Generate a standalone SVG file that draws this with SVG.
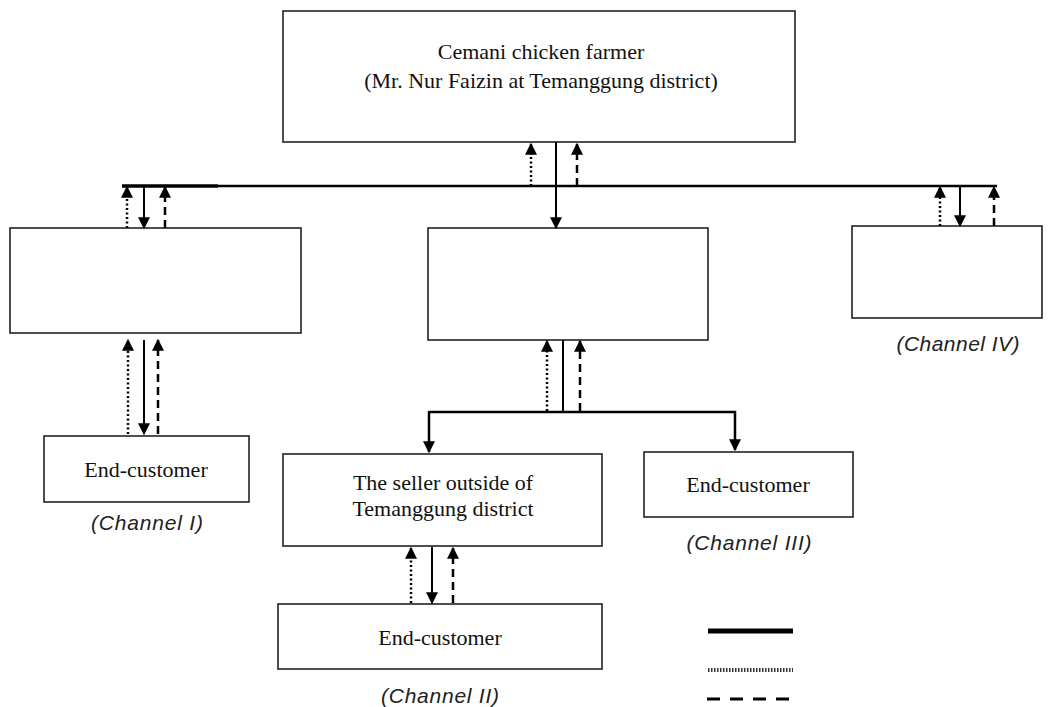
<svg xmlns="http://www.w3.org/2000/svg" width="1055" height="707" viewBox="0 0 1055 707">
<defs>
<style>
.box{fill:#fff;stroke:#222;stroke-width:1.6}
.t{font-family:"Liberation Serif","Times New Roman",serif;font-size:22px;fill:#111;text-anchor:middle}
.ch{font-family:"Liberation Sans",Arial,sans-serif;font-style:italic;font-size:21px;fill:#222;text-anchor:middle}
.s{stroke:#000;stroke-width:2;fill:none}
.d{stroke:#000;stroke-width:2.5;fill:none;stroke-dasharray:2 2.5}
.da{stroke:#000;stroke-width:2.5;fill:none;stroke-dasharray:8 5}
</style>
<marker id="ah" viewBox="0 0 10 10" refX="9" refY="5" markerWidth="12" markerHeight="12" markerUnits="userSpaceOnUse" orient="auto">
<path d="M0,0 L10,5 L0,10 Z" fill="#000"/>
</marker>
</defs>
<g id="farmer"><rect class="box" x="283" y="11" width="512" height="131"/>
<text class="t" x="541" y="59">Cemani chicken farmer</text>
<text class="t" x="541" y="88">(Mr. Nur Faizin at Temanggung district)</text></g>
<g id="box-left"><rect class="box" x="10" y="228" width="291" height="105"/></g>
<g id="box-middle"><rect class="box" x="428" y="228" width="280" height="112"/></g>
<g id="box-right"><rect class="box" x="852" y="226" width="190" height="92"/>
<text class="ch" x="958" y="351" textLength="123">(Channel IV)</text></g>
<g id="end-customer-1"><rect class="box" x="44" y="436" width="205" height="66"/>
<text class="t" x="146" y="477">End-customer</text>
<text class="ch" x="147" y="530" textLength="112">(Channel I)</text></g>
<g id="seller"><rect class="box" x="283" y="454" width="319" height="92"/>
<text class="t" x="443" y="490">The seller outside of</text>
<text class="t" x="443" y="516">Temanggung district</text></g>
<g id="end-customer-3"><rect class="box" x="644" y="452" width="209" height="65"/>
<text class="t" x="748" y="492">End-customer</text>
<text class="ch" x="749" y="550" textLength="125">(Channel III)</text></g>
<g id="end-customer-2"><rect class="box" x="278" y="604" width="324" height="65"/>
<text class="t" x="440" y="645">End-customer</text>
<text class="ch" x="440" y="703" textLength="118">(Channel II)</text></g>
<g id="connectors">
<line x1="122" y1="186" x2="218" y2="186" stroke="#000" stroke-width="3.5"/>
<line x1="218" y1="186" x2="997" y2="186" stroke="#000" stroke-width="2.5"/>
<line class="d" x1="531" y1="186" x2="531" y2="144" marker-end="url(#ah)"/>
<line class="s" x1="556" y1="142" x2="556" y2="228" marker-end="url(#ah)"/>
<line class="da" x1="577" y1="186" x2="577" y2="144" marker-end="url(#ah)"/>
<line class="d" x1="127" y1="228" x2="127" y2="187" marker-end="url(#ah)"/>
<line class="s" x1="144" y1="187" x2="144" y2="228" marker-end="url(#ah)"/>
<line class="da" x1="165" y1="228" x2="165" y2="187" marker-end="url(#ah)"/>
<line class="d" x1="940" y1="226" x2="940" y2="187" marker-end="url(#ah)"/>
<line class="s" x1="960" y1="187" x2="960" y2="226" marker-end="url(#ah)"/>
<line class="da" x1="994" y1="226" x2="994" y2="187" marker-end="url(#ah)"/>
<line class="d" x1="128" y1="434" x2="128" y2="340" marker-end="url(#ah)"/>
<line class="s" x1="144" y1="340" x2="144" y2="434" marker-end="url(#ah)"/>
<line class="da" x1="158" y1="434" x2="158" y2="340" marker-end="url(#ah)"/>
<line class="d" x1="547" y1="411" x2="547" y2="341" marker-end="url(#ah)"/>
<line class="s" x1="563" y1="340" x2="563" y2="412"/>
<line class="da" x1="580" y1="411" x2="580" y2="341" marker-end="url(#ah)"/>
<polyline points="429,412 735,412 735,450" stroke="#000" stroke-width="2.5" fill="none" marker-end="url(#ah)"/>
<line x1="429" y1="411" x2="429" y2="452" stroke="#000" stroke-width="2.5" marker-end="url(#ah)"/>
<line class="d" x1="411" y1="603" x2="411" y2="548" marker-end="url(#ah)"/>
<line class="s" x1="432" y1="547" x2="432" y2="603" marker-end="url(#ah)"/>
<line class="da" x1="453" y1="603" x2="453" y2="548" marker-end="url(#ah)"/>
</g>
<g id="legend">
<line x1="708" y1="631" x2="793" y2="631" stroke="#000" stroke-width="5"/>
<line x1="708" y1="670" x2="793" y2="670" stroke="#333" stroke-width="4" stroke-dasharray="1.5 1.5"/>
<line x1="707" y1="699" x2="793" y2="699" stroke="#000" stroke-width="3" stroke-dasharray="13 10"/>
</g>
</svg>
